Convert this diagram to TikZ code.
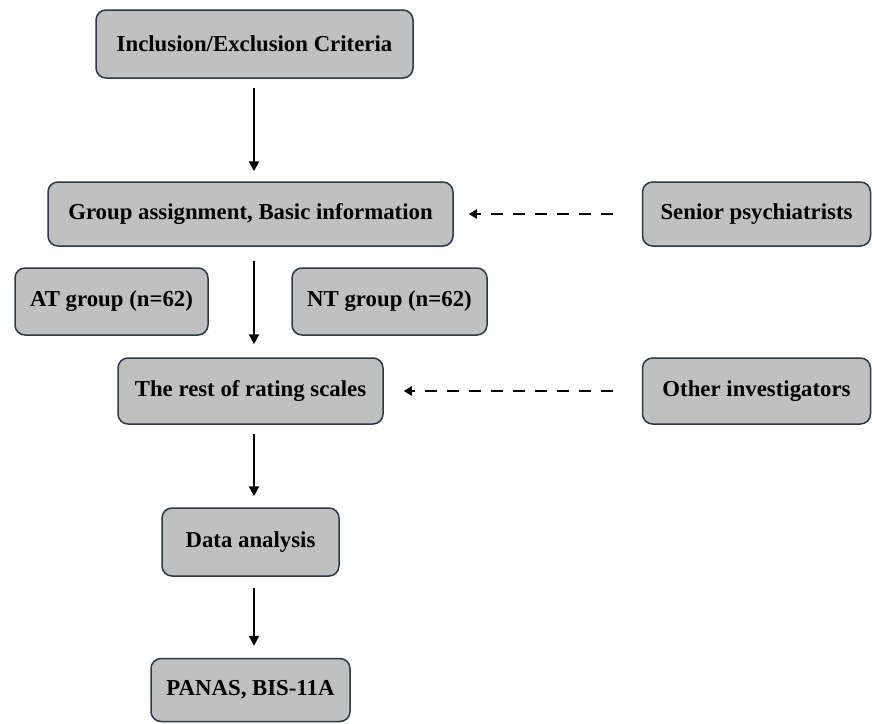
\documentclass[tikz,border=0pt]{standalone}
\usepackage{fontspec}
\setmainfont{Liberation Serif}
\usetikzlibrary{arrows.meta}
\definecolor{boxfill}{HTML}{C0C0C0}
\definecolor{boxline}{HTML}{2F3747}
\begin{document}
\begin{tikzpicture}[x=1pt,y=-1pt,
  box/.style={draw=boxline,fill=boxfill,line width=1.5pt,rounded corners=10pt,
    inner sep=0pt,font=\fontsize{22.8}{27}\selectfont\bfseries},
  flow/.style={line width=2.4pt,-{Triangle[length=10pt,width=10pt]}},
  dflow/.style={line width=2.8pt,dash pattern=on 12pt off 10pt,-{Triangle[length=8pt,width=9pt]}}]
\useasboundingbox (0,0) rectangle (872,723);
\node[box,minimum width=317pt,minimum height=68pt] (b1) at (254.5,44) {Inclusion/Exclusion Criteria};
\node[box,minimum width=405pt,minimum height=64pt] (b2) at (250.5,214) {Group assignment, Basic information};
\node[box,minimum width=228pt,minimum height=64pt] (sp) at (756.5,214) {Senior psychiatrists};
\node[box,minimum width=193pt,minimum height=67pt] (at) at (111.5,301.5) {AT group (n=62)};
\node[box,minimum width=195pt,minimum height=67pt] (nt) at (389.5,301.5) {NT group (n=62)};
\node[box,minimum width=265pt,minimum height=66pt] (b3) at (250.5,391) {The rest of rating scales};
\node[box,minimum width=228pt,minimum height=66pt] (oi) at (756.5,391) {Other investigators};
\node[box,minimum width=177pt,minimum height=68pt] (b4) at (250.5,542) {Data analysis};
\node[box,minimum width=199pt,minimum height=63pt] (b5) at (250.5,690) {PANAS, BIS-11A};
\coordinate (ax) at (254,0);
\draw[flow,shorten <=9pt,shorten >=10pt] (b1.south -| ax) -- (b2.north -| ax);
\draw[flow,shorten <=14pt,shorten >=13pt] (b2.south -| ax) -- (b3.north -| ax);
\draw[flow,shorten <=9pt,shorten >=11pt] (b3.south -| ax) -- (b4.north -| ax);
\draw[flow,shorten <=11pt,shorten >=12pt] (b4.south -| ax) -- (b5.north -| ax);
\draw[dflow,shorten <=29pt,shorten >=15pt] (sp.west) -- (b2.east);
\draw[dflow,shorten <=29pt,shorten >=20pt] (oi.west) -- (b3.east);
\end{tikzpicture}
\end{document}
